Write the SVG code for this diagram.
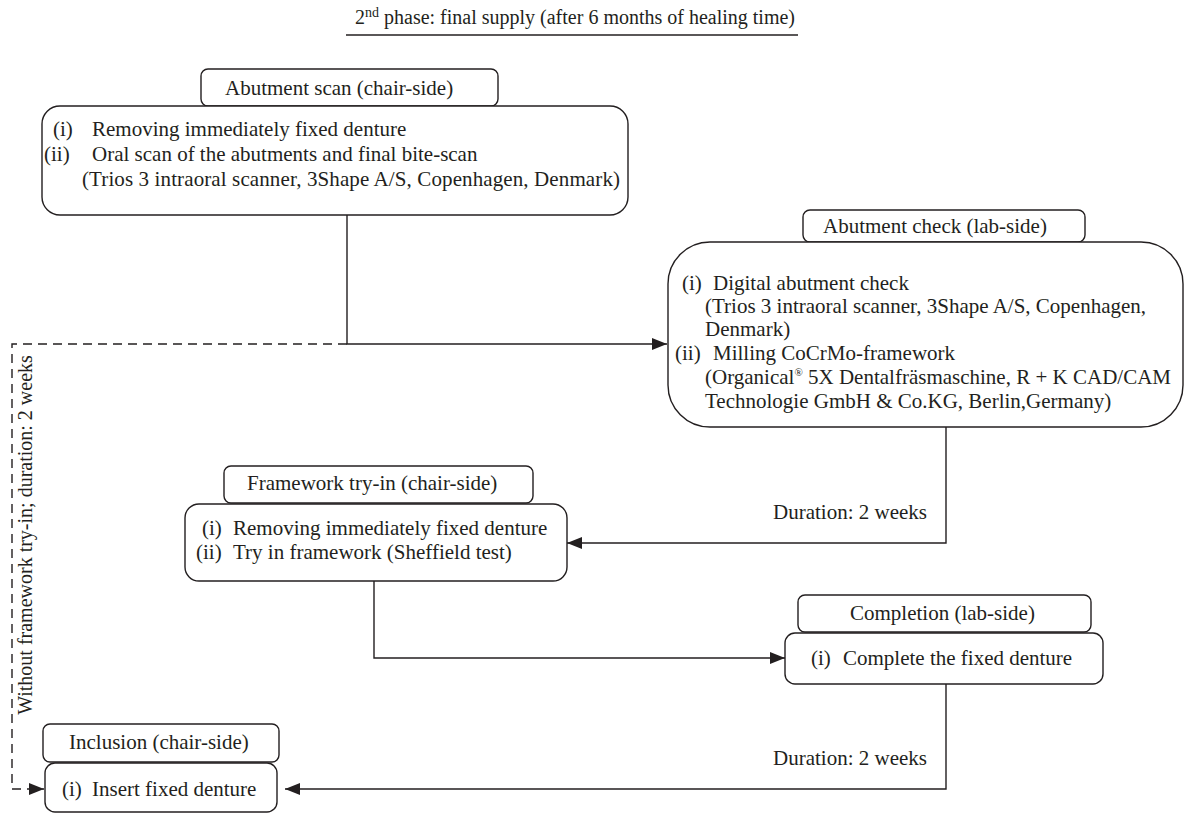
<svg xmlns="http://www.w3.org/2000/svg" width="1185" height="814" viewBox="0 0 1185 814">
<defs>
<style>
text{font-family:"Liberation Serif","Times New Roman",serif;font-size:21px;fill:#231f20}
.box{fill:#fff;stroke:#231f20;stroke-width:1.4}
.ln{fill:none;stroke:#231f20;stroke-width:1.4}
.dash{fill:none;stroke:#231f20;stroke-width:1.4;stroke-dasharray:9 6}
</style>
<marker id="arr" markerUnits="userSpaceOnUse" markerWidth="16" markerHeight="12" refX="15" refY="6" orient="auto">
<path d="M0,0 L15,6 L0,12 Z" fill="#231f20"/>
</marker>
</defs>
<rect width="1185" height="814" fill="#fff"/>
<g id="title">
<text x="355" y="24" style="font-size:20px">2<tspan font-size="14" dy="-7">nd</tspan><tspan dy="7"> phase: final supply (after 6 months of healing time)</tspan></text>
<line class="ln" x1="346" y1="35" x2="798" y2="35"/>
</g>
<g id="connectors">
<polyline class="ln" points="347,215 347,344 667,344" marker-end="url(#arr)"/>
<polyline class="dash" points="347,344 12,344 12,789 44,789" marker-end="url(#arr)"/>
<polyline class="ln" points="946,427 946,543 567,543" marker-end="url(#arr)"/>
<polyline class="ln" points="374,581 374,658 785,658" marker-end="url(#arr)"/>
<polyline class="ln" points="946,684 946,789 285,789" marker-end="url(#arr)"/>
<text x="773" y="519">Duration: 2 weeks</text>
<text x="773" y="765">Duration: 2 weeks</text>
<text transform="translate(32,535) rotate(-90)" text-anchor="middle" style="font-size:20px">Without framework try-in; duration: 2 weeks</text>
</g>
<g id="abutment-scan">
<rect class="box" x="201" y="69" width="297" height="37" rx="7"/>
<text x="225" y="95">Abutment scan (chair-side)</text>
<rect class="box" x="42" y="106" width="586" height="109" rx="18"/>
<text x="53" y="136">(i)</text><text x="92" y="136">Removing immediately fixed denture</text>
<text x="44" y="161">(ii)</text><text x="92" y="161">Oral scan of the abutments and final bite-scan</text>
<text x="82" y="186" textLength="538" lengthAdjust="spacing">(Trios 3 intraoral scanner, 3Shape A/S, Copenhagen, Denmark)</text>
</g>
<g id="abutment-check">
<rect class="box" x="803" y="210" width="282" height="32" rx="7"/>
<text x="823" y="233">Abutment check (lab-side)</text>
<rect class="box" x="668" y="242" width="515" height="185" rx="42"/>
<text x="682" y="290">(i)</text><text x="713" y="290">Digital abutment check</text>
<text x="705" y="313">(Trios 3 intraoral scanner, 3Shape A/S, Copenhagen,</text>
<text x="705" y="336">Denmark)</text>
<text x="675" y="360">(ii)</text><text x="713" y="360">Milling CoCrMo-framework</text>
<text x="705" y="384">(Organical<tspan font-size="11" dy="-8">®</tspan><tspan dy="8"> 5X Dentalfräsmaschine, R + K CAD/CAM</tspan></text>
<text x="705" y="408">Technologie GmbH &amp; Co.KG, Berlin,Germany)</text>
</g>
<g id="framework-try-in">
<rect class="box" x="224" y="466" width="309" height="37" rx="7"/>
<text x="247" y="490">Framework try-in (chair-side)</text>
<rect class="box" x="185" y="504" width="382" height="77" rx="14"/>
<text x="202" y="535">(i)</text><text x="233" y="535">Removing immediately fixed denture</text>
<text x="196" y="559">(ii)</text><text x="233" y="559">Try in framework (Sheffield test)</text>
</g>
<g id="completion">
<rect class="box" x="798" y="595" width="293" height="37" rx="7"/>
<text x="850" y="620">Completion (lab-side)</text>
<rect class="box" x="785" y="633" width="318" height="51" rx="10"/>
<text x="811" y="665">(i)</text><text x="843" y="665">Complete the fixed denture</text>
</g>
<g id="inclusion">
<rect class="box" x="43" y="724" width="236" height="38" rx="7"/>
<text x="69" y="749">Inclusion (chair-side)</text>
<rect class="box" x="45" y="763" width="232" height="49" rx="10"/>
<text x="62" y="796">(i)</text><text x="92" y="796">Insert fixed denture</text>
</g>
</svg>
